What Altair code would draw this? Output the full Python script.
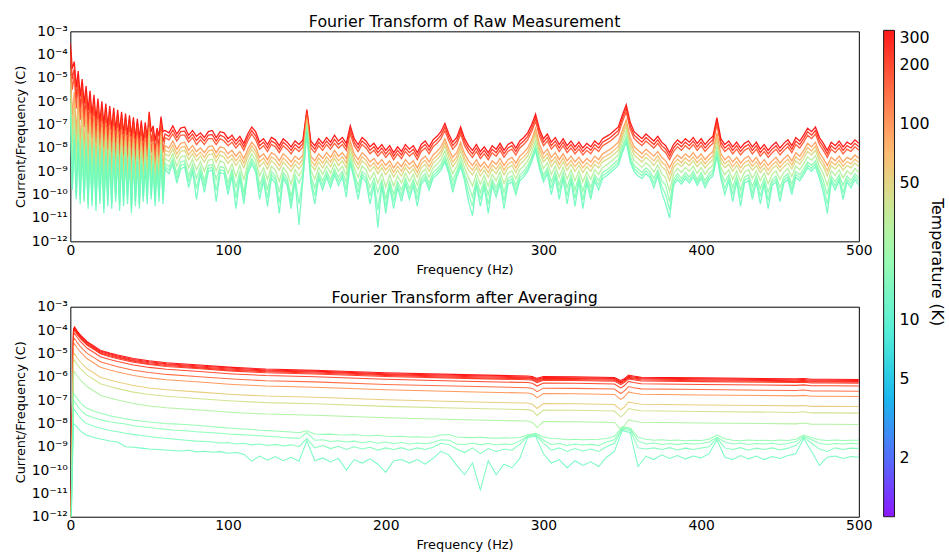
import numpy as np
import pandas as pd
import altair as alt

# ---------------- data (log10 of Current/Frequency) ----------------
# Raw spectra: 0-60 Hz sampled every 1.25 Hz, 62.5-500 Hz every 2.5 Hz
raw_freq = [round(1.25 * i, 2) for i in range(49)] + [round(62.5 + 2.5 * i, 2) for i in range(176)]
raw_temps = [300, 230, 170, 90, 65, 45, 30, 20, 17, 14]

raw_t300 = [
    -3.50, -4.60, -4.30, -5.40, -4.70, -5.80, -5.05, -6.10, -5.35, -6.40,
    -5.55, -6.60, -5.72, -6.80, -5.88, -6.90, -6.00, -7.00, -6.10, -7.10,
    -6.20, -7.20, -6.28, -7.25, -6.36, -7.30, -6.45, -7.40, -6.52, -7.45,
    -6.60, -7.50, -6.68, -7.60, -6.75, -7.60, -6.82, -7.70, -6.90, -7.60,
    -6.45, -7.30, -7.05, -7.70, -7.15, -7.50, -6.65, -7.30, -7.25,
    -7.35, -7.05, -7.40, -7.15, -7.10, -7.45, -7.25, -7.50, -7.35, -7.55,
    -7.30, -7.25, -7.55, -7.30, -7.35, -7.60, -7.45, -7.70, -7.50, -7.80,
    -7.40, -7.10, -7.30, -7.75, -7.60, -7.85, -7.55, -7.65, -7.90, -7.60,
    -7.75, -7.95, -7.70, -7.85, -7.65, -6.35, -7.70, -7.90, -7.60, -7.80,
    -7.55, -7.75, -7.45, -7.70, -7.55, -7.80, -7.05, -7.60, -7.85, -7.55,
    -7.70, -7.95, -7.80, -8.05, -7.85, -8.10, -7.90, -8.20, -7.95, -8.15,
    -7.85, -8.05, -7.90, -8.20, -7.85, -7.70, -7.95, -7.65, -7.50, -7.30,
    -6.95, -7.40, -7.75, -7.55, -7.10, -7.60, -7.90, -8.10, -7.85, -8.15,
    -7.95, -8.20, -7.90, -8.05, -7.80, -8.10, -7.85, -7.75, -8.00, -7.70,
    -7.55, -7.35, -7.00, -6.55, -7.20, -7.60, -7.40, -7.75, -7.55, -7.85,
    -7.60, -7.90, -7.70, -7.95, -7.75, -8.00, -7.80, -7.95, -7.70, -7.85,
    -7.60, -7.50, -7.40, -7.25, -7.10, -6.60, -6.15, -6.90, -7.30, -7.45,
    -7.60, -7.40, -7.55, -7.70, -7.50, -7.75, -7.90, -8.20, -7.85, -7.65,
    -7.80, -7.60, -7.75, -7.55, -7.80, -7.60, -7.85, -7.65, -7.50, -6.70,
    -7.60, -7.85, -7.70, -7.95, -7.75, -8.00, -7.80, -7.70, -7.95, -7.75,
    -8.05, -7.85, -8.10, -7.90, -7.75, -8.00, -7.80, -7.65, -7.90, -7.55,
    -7.70, -7.45, -7.15, -7.30, -7.10, -7.55, -7.80, -8.10, -7.75, -7.90,
    -7.70, -7.95, -7.75, -7.85, -7.65, -7.80,
]

raw_t230 = [
    -3.75, -5.05, -4.60, -5.85, -4.98, -6.30, -5.30, -6.60, -5.58, -6.90,
    -5.78, -7.10, -5.92, -7.30, -6.08, -7.40, -6.20, -7.50, -6.29, -7.60,
    -6.39, -7.70, -6.46, -7.75, -6.54, -7.80, -6.63, -7.88, -6.69, -7.93,
    -6.77, -7.98, -6.85, -8.05, -6.91, -8.05, -6.98, -8.15, -7.06, -8.05,
    -6.60, -7.75, -7.20, -8.15, -7.30, -7.95, -6.80, -7.75, -7.40,
    -7.50, -7.23, -7.55, -7.30, -7.28, -7.60, -7.40, -7.68, -7.50, -7.70,
    -7.45, -7.43, -7.70, -7.45, -7.53, -7.75, -7.60, -7.85, -7.65, -7.95,
    -7.55, -7.25, -7.48, -7.90, -7.75, -8.00, -7.70, -7.80, -8.05, -7.75,
    -7.90, -8.10, -7.85, -8.00, -7.80, -6.42, -7.85, -8.05, -7.75, -7.95,
    -7.70, -7.90, -7.63, -7.85, -7.70, -7.95, -7.23, -7.75, -8.00, -7.70,
    -7.85, -8.10, -7.95, -8.20, -8.00, -8.25, -8.05, -8.35, -8.10, -8.30,
    -8.00, -8.20, -8.05, -8.35, -8.00, -7.85, -8.10, -7.80, -7.65, -7.45,
    -7.10, -7.55, -7.90, -7.70, -7.25, -7.75, -8.05, -8.25, -8.00, -8.30,
    -8.10, -8.35, -8.05, -8.20, -7.95, -8.25, -8.00, -7.90, -8.15, -7.85,
    -7.70, -7.50, -7.15, -6.70, -7.35, -7.75, -7.55, -7.90, -7.70, -8.00,
    -7.75, -8.05, -7.85, -8.10, -7.90, -8.15, -7.95, -8.10, -7.85, -8.00,
    -7.75, -7.65, -7.55, -7.40, -7.25, -6.75, -6.30, -7.05, -7.45, -7.60,
    -7.75, -7.55, -7.70, -7.85, -7.65, -7.90, -8.05, -8.35, -8.00, -7.80,
    -7.95, -7.75, -7.90, -7.70, -7.95, -7.75, -8.00, -7.80, -7.65, -6.85,
    -7.75, -8.00, -7.85, -8.10, -7.90, -8.15, -7.95, -7.85, -8.10, -7.90,
    -8.20, -8.00, -8.25, -8.05, -7.90, -8.15, -7.95, -7.80, -8.05, -7.70,
    -7.85, -7.60, -7.30, -7.45, -7.25, -7.70, -7.95, -8.25, -7.90, -8.05,
    -7.85, -8.10, -7.90, -8.00, -7.80, -7.95,
]

raw_t170 = [
    -4.00, -5.50, -4.90, -6.30, -5.25, -6.80, -5.55, -7.10, -5.80, -7.40,
    -6.00, -7.60, -6.12, -7.80, -6.28, -7.90, -6.40, -8.00, -6.48, -8.10,
    -6.58, -8.20, -6.64, -8.25, -6.71, -8.30, -6.80, -8.35, -6.86, -8.40,
    -6.93, -8.45, -7.01, -8.50, -7.07, -8.50, -7.14, -8.60, -7.21, -8.50,
    -6.75, -8.20, -7.35, -8.60, -7.45, -8.40, -6.95, -8.20, -7.55,
    -7.65, -7.40, -7.70, -7.45, -7.45, -7.75, -7.55, -7.85, -7.65, -7.85,
    -7.60, -7.60, -7.85, -7.60, -7.70, -7.90, -7.75, -8.00, -7.80, -8.10,
    -7.70, -7.40, -7.65, -8.05, -7.90, -8.15, -7.85, -7.95, -8.20, -7.90,
    -8.05, -8.25, -8.00, -8.15, -7.95, -6.50, -8.00, -8.20, -7.90, -8.10,
    -7.85, -8.05, -7.80, -8.00, -7.85, -8.10, -7.40, -7.90, -8.15, -7.85,
    -8.00, -8.25, -8.10, -8.35, -8.15, -8.40, -8.20, -8.50, -8.25, -8.45,
    -8.15, -8.35, -8.20, -8.50, -8.15, -8.00, -8.25, -7.95, -7.80, -7.60,
    -7.25, -7.70, -8.05, -7.85, -7.40, -7.90, -8.20, -8.40, -8.15, -8.45,
    -8.25, -8.50, -8.20, -8.35, -8.10, -8.40, -8.15, -8.05, -8.30, -8.00,
    -7.85, -7.65, -7.30, -6.85, -7.50, -7.90, -7.70, -8.05, -7.85, -8.15,
    -7.90, -8.20, -8.00, -8.25, -8.05, -8.30, -8.10, -8.25, -8.00, -8.15,
    -7.90, -7.80, -7.70, -7.55, -7.40, -6.90, -6.45, -7.20, -7.60, -7.75,
    -7.90, -7.70, -7.85, -8.00, -7.80, -8.05, -8.20, -8.50, -8.15, -7.95,
    -8.10, -7.90, -8.05, -7.85, -8.10, -7.90, -8.15, -7.95, -7.80, -7.00,
    -7.90, -8.15, -8.00, -8.25, -8.05, -8.30, -8.10, -8.00, -8.25, -8.05,
    -8.35, -8.15, -8.40, -8.20, -8.05, -8.30, -8.10, -7.95, -8.20, -7.85,
    -8.00, -7.75, -7.45, -7.60, -7.40, -7.85, -8.10, -8.40, -8.05, -8.20,
    -8.00, -8.25, -8.05, -8.15, -7.95, -8.10,
]

raw_t90 = [
    -4.60, -6.60, -5.60, -7.40, -5.90, -7.80, -6.15, -8.00, -6.35, -8.30,
    -6.50, -8.40, -6.62, -8.60, -6.76, -8.60, -6.85, -8.70, -6.93, -8.80,
    -7.00, -8.85, -7.06, -8.90, -7.12, -8.90, -7.20, -9.00, -7.25, -9.00,
    -7.32, -9.05, -7.38, -9.10, -7.45, -9.10, -7.50, -9.15, -7.57, -9.10,
    -7.11, -8.80, -7.71, -9.10, -7.80, -9.00, -7.30, -8.90, -7.90,
    -8.00, -7.70, -8.05, -7.80, -7.75, -8.10, -7.90, -8.15, -8.00, -8.20,
    -7.95, -7.90, -8.20, -7.95, -8.00, -8.25, -8.10, -8.35, -8.15, -8.45,
    -8.05, -7.75, -7.95, -8.40, -8.25, -8.50, -8.20, -8.30, -8.55, -8.25,
    -8.40, -8.60, -8.35, -8.50, -8.30, -6.70, -8.35, -8.55, -8.25, -8.45,
    -8.20, -8.40, -8.10, -8.35, -8.20, -8.45, -7.70, -8.25, -8.50, -8.20,
    -8.35, -8.60, -8.45, -8.70, -8.50, -8.75, -8.55, -8.85, -8.60, -8.80,
    -8.50, -8.70, -8.55, -8.85, -8.50, -8.35, -8.60, -8.30, -8.15, -7.95,
    -7.60, -8.05, -8.40, -8.20, -7.75, -8.25, -8.55, -8.75, -8.50, -8.80,
    -8.60, -8.85, -8.55, -8.70, -8.45, -8.75, -8.50, -8.40, -8.65, -8.35,
    -8.20, -8.00, -7.65, -7.15, -7.85, -8.25, -8.05, -8.40, -8.20, -8.50,
    -8.25, -8.55, -8.35, -8.60, -8.40, -8.65, -8.45, -8.60, -8.35, -8.50,
    -8.25, -8.15, -8.05, -7.90, -7.75, -7.25, -6.80, -7.55, -7.95, -8.10,
    -8.25, -8.05, -8.20, -8.35, -8.15, -8.40, -8.55, -8.85, -8.50, -8.30,
    -8.45, -8.25, -8.40, -8.20, -8.45, -8.25, -8.50, -8.30, -8.15, -7.35,
    -8.25, -8.50, -8.35, -8.60, -8.40, -8.65, -8.45, -8.35, -8.60, -8.40,
    -8.70, -8.50, -8.75, -8.55, -8.40, -8.65, -8.45, -8.30, -8.55, -8.20,
    -8.35, -8.10, -7.80, -7.95, -7.75, -8.20, -8.45, -8.75, -8.40, -8.55,
    -8.35, -8.60, -8.40, -8.50, -8.30, -8.45,
]

raw_t65 = [
    -4.90, -7.20, -5.95, -7.95, -6.23, -8.30, -6.45, -8.50, -6.65, -8.75,
    -6.78, -8.85, -6.90, -9.00, -7.02, -9.00, -7.10, -9.10, -7.17, -9.15,
    -7.24, -9.23, -7.29, -9.20, -7.34, -9.25, -7.42, -9.30, -7.46, -9.30,
    -7.53, -9.38, -7.58, -9.35, -7.64, -9.40, -7.69, -9.38, -7.76, -9.35,
    -7.30, -9.05, -7.89, -9.35, -7.98, -9.25, -7.48, -9.15, -8.08,
    -8.18, -7.88, -8.25, -7.98, -7.93, -8.30, -8.08, -8.35, -8.18, -8.40,
    -8.13, -8.08, -8.40, -8.13, -8.20, -8.45, -8.28, -8.55, -8.33, -8.65,
    -8.23, -7.90, -8.13, -8.60, -8.43, -8.70, -8.38, -8.50, -8.75, -8.43,
    -8.60, -8.80, -8.53, -8.70, -8.48, -6.80, -8.53, -8.75, -8.43, -8.65,
    -8.38, -8.60, -8.28, -8.55, -8.38, -8.65, -7.85, -8.43, -8.70, -8.38,
    -8.53, -8.80, -8.63, -8.90, -8.68, -8.95, -8.73, -9.05, -8.78, -9.00,
    -8.68, -8.90, -8.73, -9.05, -8.68, -8.53, -8.80, -8.48, -8.33, -8.13,
    -7.75, -8.23, -8.60, -8.38, -7.93, -8.43, -8.75, -8.95, -8.68, -9.00,
    -8.78, -9.05, -8.73, -8.90, -8.63, -8.95, -8.68, -8.58, -8.85, -8.53,
    -8.38, -8.18, -7.80, -7.30, -8.03, -8.43, -8.23, -8.60, -8.38, -8.70,
    -8.43, -8.75, -8.53, -8.80, -8.58, -8.85, -8.63, -8.80, -8.53, -8.68,
    -8.43, -8.33, -8.23, -8.08, -7.93, -7.40, -6.93, -7.73, -8.13, -8.28,
    -8.43, -8.23, -8.38, -8.55, -8.33, -8.60, -8.75, -9.13, -8.68, -8.48,
    -8.63, -8.43, -8.58, -8.38, -8.63, -8.43, -8.68, -8.48, -8.33, -7.50,
    -8.43, -8.68, -8.53, -8.80, -8.58, -8.85, -8.63, -8.53, -8.78, -8.58,
    -8.88, -8.68, -8.95, -8.73, -8.58, -8.83, -8.63, -8.48, -8.73, -8.38,
    -8.53, -8.28, -7.98, -8.13, -7.93, -8.38, -8.63, -8.98, -8.58, -8.73,
    -8.53, -8.78, -8.58, -8.68, -8.48, -8.63,
]

raw_t45 = [
    -5.20, -7.80, -6.30, -8.50, -6.55, -8.80, -6.75, -9.00, -6.95, -9.20,
    -7.05, -9.30, -7.17, -9.40, -7.28, -9.40, -7.35, -9.50, -7.40, -9.50,
    -7.47, -9.60, -7.52, -9.50, -7.56, -9.60, -7.63, -9.60, -7.67, -9.60,
    -7.73, -9.70, -7.78, -9.60, -7.83, -9.70, -7.88, -9.60, -7.95, -9.60,
    -7.48, -9.30, -8.07, -9.60, -8.15, -9.50, -7.65, -9.40, -8.25,
    -8.35, -8.05, -8.45, -8.15, -8.10, -8.50, -8.25, -8.55, -8.35, -8.60,
    -8.30, -8.25, -8.60, -8.30, -8.40, -8.65, -8.45, -8.75, -8.50, -8.85,
    -8.40, -8.05, -8.30, -8.80, -8.60, -8.90, -8.55, -8.70, -8.95, -8.60,
    -8.80, -9.00, -8.70, -8.90, -8.65, -6.90, -8.70, -8.95, -8.60, -8.85,
    -8.55, -8.80, -8.45, -8.75, -8.55, -8.85, -8.00, -8.60, -8.90, -8.55,
    -8.70, -9.00, -8.80, -9.10, -8.85, -9.15, -8.90, -9.25, -8.95, -9.20,
    -8.85, -9.10, -8.90, -9.25, -8.85, -8.70, -9.00, -8.65, -8.50, -8.30,
    -7.90, -8.40, -8.80, -8.55, -8.10, -8.60, -8.95, -9.15, -8.85, -9.20,
    -8.95, -9.25, -8.90, -9.10, -8.80, -9.15, -8.85, -8.75, -9.05, -8.70,
    -8.55, -8.35, -7.95, -7.45, -8.20, -8.60, -8.40, -8.80, -8.55, -8.90,
    -8.60, -8.95, -8.70, -9.00, -8.75, -9.05, -8.80, -9.00, -8.70, -8.85,
    -8.60, -8.50, -8.40, -8.25, -8.10, -7.55, -7.05, -7.90, -8.30, -8.45,
    -8.60, -8.40, -8.55, -8.75, -8.50, -8.80, -8.95, -9.40, -8.85, -8.65,
    -8.80, -8.60, -8.75, -8.55, -8.80, -8.60, -8.85, -8.65, -8.50, -7.65,
    -8.60, -8.85, -8.70, -9.00, -8.75, -9.05, -8.80, -8.70, -8.95, -8.75,
    -9.05, -8.85, -9.15, -8.90, -8.75, -9.00, -8.80, -8.65, -8.90, -8.55,
    -8.70, -8.45, -8.15, -8.30, -8.10, -8.55, -8.80, -9.20, -8.75, -8.90,
    -8.70, -8.95, -8.75, -8.85, -8.65, -8.80,
]

raw_t30 = [
    -5.65, -8.65, -6.75, -9.20, -6.98, -9.40, -7.15, -9.50, -7.33, -9.70,
    -7.40, -9.70, -7.50, -9.85, -7.58, -9.75, -7.65, -9.95, -7.70, -9.80,
    -7.76, -9.90, -7.80, -9.75, -7.84, -9.95, -7.90, -9.85, -7.94, -9.80,
    -7.99, -10.05, -8.04, -9.85, -8.09, -9.95, -8.14, -9.80, -8.20, -9.80,
    -7.72, -9.60, -8.29, -9.85, -8.36, -9.70, -7.85, -9.70, -8.45,
    -8.58, -8.25, -8.78, -8.38, -8.33, -8.85, -8.48, -8.93, -8.58, -9.00,
    -8.53, -8.48, -8.98, -8.55, -8.63, -9.08, -8.68, -9.23, -8.75, -9.38,
    -8.63, -8.25, -8.53, -9.20, -8.85, -9.35, -8.78, -8.95, -9.43, -8.83,
    -9.05, -9.55, -8.93, -9.20, -8.88, -7.00, -8.95, -9.33, -8.83, -9.13,
    -8.78, -9.08, -8.68, -9.00, -8.78, -9.15, -8.20, -8.85, -9.25, -8.78,
    -8.93, -9.35, -9.05, -9.50, -9.10, -9.68, -9.15, -9.63, -9.20, -9.50,
    -9.08, -9.43, -9.13, -9.58, -9.08, -8.90, -9.25, -8.85, -8.70, -8.50,
    -8.13, -8.63, -9.10, -8.78, -8.33, -8.85, -9.28, -9.63, -9.10, -9.55,
    -9.18, -9.63, -9.13, -9.40, -9.03, -9.53, -9.08, -8.98, -9.33, -8.93,
    -8.78, -8.55, -8.18, -7.68, -8.43, -8.88, -8.63, -9.13, -8.78, -9.25,
    -8.83, -9.33, -8.93, -9.40, -8.98, -9.45, -9.03, -9.35, -8.93, -9.13,
    -8.83, -8.73, -8.60, -8.45, -8.30, -7.75, -7.28, -8.13, -8.53, -8.68,
    -8.83, -8.63, -8.78, -9.03, -8.73, -9.10, -9.28, -9.85, -9.10, -8.88,
    -9.05, -8.83, -9.00, -8.78, -9.08, -8.83, -9.13, -8.88, -8.73, -7.88,
    -8.83, -9.15, -8.93, -9.35, -8.98, -9.43, -9.03, -8.93, -9.30, -8.98,
    -9.40, -9.08, -9.53, -9.13, -8.98, -9.35, -9.03, -8.88, -9.23, -8.78,
    -8.93, -8.68, -8.38, -8.53, -8.33, -8.78, -9.10, -9.60, -8.98, -9.18,
    -8.93, -9.28, -8.98, -9.13, -8.88, -9.05,
]

raw_t20 = [
    -6.10, -9.50, -7.20, -9.90, -7.40, -10.00, -7.55, -10.00, -7.70, -10.20,
    -7.75, -10.10, -7.82, -10.30, -7.88, -10.10, -7.95, -10.40, -8.00, -10.10,
    -8.05, -10.20, -8.08, -10.00, -8.11, -10.30, -8.17, -10.10, -8.20, -10.00,
    -8.25, -10.40, -8.30, -10.10, -8.35, -10.20, -8.40, -10.00, -8.45, -10.00,
    -7.95, -9.90, -8.50, -10.10, -8.57, -9.90, -8.05, -10.00, -8.65,
    -8.80, -8.45, -9.10, -8.60, -8.55, -9.20, -8.70, -9.30, -8.80, -9.40,
    -8.75, -8.70, -9.35, -8.80, -8.85, -9.50, -8.90, -9.70, -9.00, -9.90,
    -8.85, -8.45, -8.75, -9.60, -9.10, -9.80, -9.00, -9.20, -9.90, -9.05,
    -9.30, -10.10, -9.15, -9.50, -9.10, -7.10, -9.20, -9.70, -9.05, -9.40,
    -9.00, -9.35, -8.90, -9.25, -9.00, -9.45, -8.40, -9.10, -9.60, -9.00,
    -9.15, -9.70, -9.30, -9.90, -9.35, -10.20, -9.40, -10.00, -9.45, -9.80,
    -9.30, -9.75, -9.35, -9.90, -9.30, -9.10, -9.50, -9.05, -8.90, -8.70,
    -8.35, -8.85, -9.40, -9.00, -8.55, -9.10, -9.60, -10.10, -9.35, -9.90,
    -9.40, -10.00, -9.35, -9.70, -9.25, -9.90, -9.30, -9.20, -9.60, -9.15,
    -9.00, -8.75, -8.40, -7.90, -8.65, -9.15, -8.85, -9.45, -9.00, -9.60,
    -9.05, -9.70, -9.15, -9.80, -9.20, -9.85, -9.25, -9.70, -9.15, -9.40,
    -9.05, -8.95, -8.80, -8.65, -8.50, -7.95, -7.50, -8.35, -8.75, -8.90,
    -9.05, -8.85, -9.00, -9.30, -8.95, -9.40, -9.60, -10.30, -9.35, -9.10,
    -9.30, -9.05, -9.25, -9.00, -9.35, -9.05, -9.40, -9.10, -8.95, -8.10,
    -9.05, -9.45, -9.15, -9.70, -9.20, -9.80, -9.25, -9.15, -9.65, -9.20,
    -9.75, -9.30, -9.90, -9.35, -9.20, -9.70, -9.25, -9.10, -9.55, -9.00,
    -9.15, -8.90, -8.60, -8.75, -8.55, -9.00, -9.40, -10.00, -9.20, -9.45,
    -9.15, -9.60, -9.20, -9.40, -9.10, -9.30,
]

raw_t17 = [
    -6.30, -9.65, -7.40, -10.05, -7.60, -10.20, -7.70, -10.15, -7.83, -10.40,
    -7.88, -10.30, -7.95, -10.50, -8.01, -10.25, -8.08, -10.60, -8.13, -10.30,
    -8.18, -10.40, -8.21, -10.15, -8.24, -10.50, -8.29, -10.30, -8.31, -10.20,
    -8.37, -10.60, -8.42, -10.30, -8.46, -10.40, -8.51, -10.15, -8.57, -10.20,
    -8.05, -10.05, -8.62, -10.30, -8.69, -10.10, -8.18, -10.20, -8.78,
    -8.95, -8.58, -9.30, -8.75, -8.68, -9.45, -8.85, -9.75, -8.95, -9.65,
    -8.88, -8.83, -9.83, -8.93, -8.98, -9.75, -9.05, -10.15, -9.15, -10.15,
    -8.98, -8.58, -8.88, -9.90, -9.25, -10.15, -9.15, -9.35, -10.35, -9.18,
    -9.45, -10.35, -9.28, -10.40, -9.23, -7.20, -9.35, -10.05, -9.18, -9.60,
    -9.13, -9.53, -9.03, -9.43, -9.13, -9.78, -8.53, -9.23, -9.90, -9.13,
    -9.30, -10.05, -9.45, -10.65, -9.48, -10.50, -9.53, -10.30, -9.58, -10.05,
    -9.43, -9.98, -9.48, -10.20, -9.43, -9.23, -9.65, -9.18, -9.03, -8.83,
    -8.48, -8.98, -9.65, -9.13, -8.68, -9.25, -9.95, -10.50, -9.48, -10.20,
    -9.53, -10.40, -9.48, -9.90, -9.38, -10.25, -9.43, -9.33, -9.80, -9.28,
    -9.13, -8.88, -8.50, -8.00, -8.78, -9.30, -8.98, -9.73, -9.13, -9.90,
    -9.18, -10.05, -9.28, -10.15, -9.33, -10.23, -9.38, -9.95, -9.28, -9.60,
    -9.18, -9.08, -8.93, -8.78, -8.63, -8.08, -7.63, -8.48, -8.88, -9.05,
    -9.18, -8.98, -9.13, -9.50, -9.08, -9.65, -10.00, -10.65, -9.48, -9.23,
    -9.43, -9.18, -9.38, -9.13, -9.48, -9.18, -9.55, -9.23, -9.08, -8.23,
    -9.18, -9.73, -9.28, -10.00, -9.33, -10.15, -9.38, -9.28, -9.93, -9.33,
    -10.08, -9.43, -10.25, -9.48, -9.33, -10.00, -9.38, -9.23, -9.78, -9.13,
    -9.28, -9.03, -8.73, -8.88, -8.68, -9.15, -9.65, -10.40, -9.33, -9.63,
    -9.28, -9.90, -9.33, -9.55, -9.23, -9.45,
]

raw_t14 = [
    -6.50, -9.80, -7.60, -10.20, -7.80, -10.40, -7.85, -10.30, -7.95, -10.60,
    -8.00, -10.50, -8.07, -10.70, -8.13, -10.40, -8.20, -10.80, -8.25, -10.50,
    -8.30, -10.60, -8.33, -10.30, -8.36, -10.70, -8.40, -10.50, -8.42, -10.40,
    -8.48, -10.80, -8.53, -10.50, -8.57, -10.60, -8.62, -10.30, -8.68, -10.40,
    -8.15, -10.20, -8.73, -10.50, -8.80, -10.30, -8.30, -10.40, -8.90,
    -9.10, -8.70, -9.50, -8.90, -8.80, -9.70, -9.00, -10.20, -9.10, -9.90,
    -9.00, -8.95, -10.30, -9.05, -9.10, -10.00, -9.20, -10.60, -9.30, -10.40,
    -9.10, -8.70, -9.00, -10.20, -9.40, -10.50, -9.30, -9.50, -10.80, -9.30,
    -9.60, -10.60, -9.40, -11.30, -9.35, -7.30, -9.50, -10.40, -9.30, -9.80,
    -9.25, -9.70, -9.15, -9.60, -9.25, -10.10, -8.65, -9.35, -10.20, -9.25,
    -9.45, -10.40, -9.60, -11.40, -9.60, -10.80, -9.65, -10.60, -9.70, -10.30,
    -9.55, -10.20, -9.60, -10.50, -9.55, -9.35, -9.80, -9.30, -9.15, -8.95,
    -8.60, -9.10, -9.90, -9.25, -8.80, -9.40, -10.30, -10.90, -9.60, -10.50,
    -9.65, -10.80, -9.60, -10.10, -9.50, -10.60, -9.55, -9.45, -10.00, -9.40,
    -9.25, -9.00, -8.60, -8.10, -8.90, -9.45, -9.10, -10.00, -9.25, -10.20,
    -9.30, -10.40, -9.40, -10.50, -9.45, -10.60, -9.50, -10.20, -9.40, -9.80,
    -9.30, -9.20, -9.05, -8.90, -8.75, -8.20, -7.75, -8.60, -9.00, -9.20,
    -9.30, -9.10, -9.25, -9.70, -9.20, -9.90, -10.40, -11.00, -9.60, -9.35,
    -9.55, -9.30, -9.50, -9.25, -9.60, -9.30, -9.70, -9.35, -9.20, -8.35,
    -9.30, -10.00, -9.40, -10.30, -9.45, -10.50, -9.50, -9.40, -10.20, -9.45,
    -10.40, -9.55, -10.60, -9.60, -9.45, -10.30, -9.50, -9.35, -10.00, -9.25,
    -9.40, -9.15, -8.85, -9.00, -8.80, -9.30, -9.90, -10.80, -9.45, -9.80,
    -9.40, -10.20, -9.45, -9.70, -9.35, -9.60,
]

# Averaged spectra, smooth curves
avg_freq = [0, 2, 2.7, 4.4, 6.5, 10.7, 15, 19, 25, 30, 40, 50, 61, 82, 103, 124, 155, 200,
            250, 290, 293, 296, 300, 320, 345, 349, 351, 354, 357, 362, 400, 460, 465, 470, 480, 500]
avg_temps = [300, 280, 260, 240, 220, 200, 150, 100, 55, 40, 28]

avg_t300 = [-14, -3.95, -3.86, -4.04, -4.22, -4.50, -4.68, -4.86, -4.98, -5.07, -5.22, -5.32, -5.40, -5.50,
            -5.60, -5.67, -5.72, -5.83, -5.91, -5.97, -5.99, -6.07, -5.99, -6.00, -6.03, -6.16, -6.10,
            -5.93, -5.97, -6.02, -6.05, -6.09, -6.08, -6.11, -6.11, -6.12]
avg_t280 = [-14, -3.99, -3.90, -4.08, -4.26, -4.54, -4.72, -4.90, -5.02, -5.11, -5.26, -5.36, -5.44, -5.54,
            -5.64, -5.71, -5.76, -5.87, -5.95, -6.01, -6.03, -6.12, -6.03, -6.04, -6.07, -6.21, -6.14,
            -5.98, -6.01, -6.06, -6.09, -6.13, -6.12, -6.15, -6.15, -6.16]
avg_t260 = [-14, -4.03, -3.94, -4.12, -4.30, -4.58, -4.76, -4.94, -5.06, -5.15, -5.30, -5.40, -5.48, -5.58,
            -5.68, -5.75, -5.80, -5.91, -5.99, -6.05, -6.07, -6.16, -6.07, -6.08, -6.11, -6.25, -6.18,
            -6.02, -6.05, -6.10, -6.13, -6.17, -6.16, -6.19, -6.19, -6.20]
avg_t240 = [-14, -4.07, -3.98, -4.16, -4.34, -4.62, -4.80, -4.98, -5.10, -5.19, -5.34, -5.44, -5.52, -5.62,
            -5.72, -5.79, -5.84, -5.95, -6.03, -6.09, -6.11, -6.20, -6.11, -6.12, -6.15, -6.29, -6.22,
            -6.06, -6.09, -6.14, -6.17, -6.21, -6.20, -6.23, -6.23, -6.24]
avg_t220 = [-14, -4.11, -4.02, -4.20, -4.38, -4.66, -4.84, -5.02, -5.14, -5.23, -5.38, -5.48, -5.56, -5.66,
            -5.76, -5.83, -5.88, -5.99, -6.07, -6.13, -6.15, -6.25, -6.15, -6.16, -6.19, -6.34, -6.26,
            -6.10, -6.13, -6.18, -6.21, -6.25, -6.24, -6.27, -6.27, -6.28]
avg_t200 = [-14, -4.23, -4.14, -4.32, -4.50, -4.78, -4.96, -5.14, -5.26, -5.35, -5.50, -5.60, -5.68, -5.78,
            -5.88, -5.95, -6.00, -6.11, -6.19, -6.25, -6.28, -6.40, -6.27, -6.28, -6.31, -6.48, -6.40,
            -6.20, -6.25, -6.30, -6.33, -6.37, -6.35, -6.39, -6.39, -6.40]
avg_t150 = [-14, -4.45, -4.36, -4.54, -4.72, -5.00, -5.18, -5.36, -5.48, -5.57, -5.72, -5.82, -5.90, -6.00,
            -6.10, -6.17, -6.22, -6.33, -6.41, -6.47, -6.50, -6.64, -6.49, -6.50, -6.53, -6.72, -6.63,
            -6.42, -6.47, -6.52, -6.55, -6.59, -6.57, -6.61, -6.61, -6.62]
avg_t100 = [-14, -4.68, -4.59, -4.77, -4.95, -5.23, -5.41, -5.59, -5.71, -5.80, -5.95, -6.05, -6.13, -6.23,
            -6.33, -6.40, -6.45, -6.56, -6.64, -6.70, -6.74, -6.90, -6.72, -6.73, -6.76, -6.97, -6.88,
            -6.65, -6.70, -6.75, -6.78, -6.82, -6.80, -6.84, -6.84, -6.85]
avg_t55 = [-14, -5.11, -5.02, -5.20, -5.38, -5.66, -5.84, -6.02, -6.14, -6.23, -6.38, -6.48, -6.56, -6.66,
           -6.76, -6.83, -6.88, -6.99, -7.07, -7.13, -7.18, -7.36, -7.15, -7.16, -7.19, -7.42, -7.32,
           -7.08, -7.13, -7.18, -7.21, -7.25, -7.23, -7.27, -7.27, -7.28]
avg_t40 = [-14, -5.39, -5.30, -5.48, -5.66, -5.94, -6.12, -6.30, -6.42, -6.51, -6.66, -6.76, -6.84, -6.94,
           -7.04, -7.11, -7.16, -7.27, -7.35, -7.41, -7.46, -7.66, -7.43, -7.44, -7.47, -7.72, -7.61,
           -7.36, -7.41, -7.46, -7.49, -7.53, -7.50, -7.55, -7.55, -7.56]
avg_t28 = [-14, -5.88, -5.79, -5.97, -6.15, -6.43, -6.61, -6.79, -6.91, -7.00, -7.15, -7.25, -7.33, -7.43,
           -7.53, -7.60, -7.65, -7.76, -7.84, -7.90, -7.96, -8.18, -7.92, -7.93, -7.96, -8.25, -8.12,
           -7.85, -7.90, -7.95, -7.98, -8.02, -7.98, -8.04, -8.04, -8.05]

# Averaged spectra, noisy low-temperature curves (0, 2, 3.5, 5, 7.5, 10, then every 5 Hz)
avg_noisy_freq = [0, 2, 3.5, 5, 7.5, 10] + list(range(15, 501, 5))
avg_noisy_temps = [20, 18, 16, 14]

avg_t20 = [
    -14, -6.72, -6.85, -7.00, -7.20, -7.33,
    -7.48, -7.58, -7.67, -7.74, -7.80, -7.86, -7.90, -7.94, -7.97, -8.00,
    -8.02, -8.04, -8.06, -8.08, -8.11, -8.14, -8.17, -8.20, -8.22, -8.24,
    -8.26, -8.29, -8.31, -8.33, -8.35, -8.37, -8.40, -8.32, -8.45, -8.47,
    -8.46, -8.49, -8.50, -8.48, -8.52, -8.53, -8.51, -8.55, -8.56, -8.55,
    -8.58, -8.57, -8.59, -8.58, -8.50, -8.48, -8.58, -8.60, -8.61, -8.59,
    -8.62, -8.64, -8.62, -8.63, -8.60, -8.50, -8.42, -8.58, -8.65, -8.66,
    -8.70, -8.68, -8.70, -8.69, -8.68, -8.65, -8.55, -8.15, -8.20, -8.60,
    -8.68, -8.72, -8.70, -8.73, -8.71, -8.74, -8.72, -8.73, -8.68, -8.50,
    -8.66, -8.72, -8.74, -8.71, -8.73, -8.72, -8.74, -8.71, -8.73, -8.68,
    -8.50, -8.62, -8.70, -8.73, -8.71, -8.73, -8.72, -8.72,
]
avg_t18 = [
    -14, -7.00, -7.15, -7.30, -7.50, -7.64,
    -7.76, -7.86, -7.93, -7.98, -8.03, -8.10, -8.14, -8.18, -8.22, -8.25,
    -8.28, -8.30, -8.33, -8.36, -8.38, -8.40, -8.42, -8.45, -8.47, -8.49,
    -8.51, -8.53, -8.55, -8.57, -8.60, -8.62, -8.65, -8.40, -8.72, -8.70,
    -8.78, -8.74, -8.80, -8.76, -8.83, -8.78, -8.85, -8.80, -8.86, -8.82,
    -8.88, -8.84, -8.87, -8.82, -8.70, -8.72, -8.88, -8.90, -8.84, -8.92,
    -8.86, -8.93, -8.88, -8.90, -8.75, -8.55, -8.45, -8.72, -8.90, -8.86,
    -8.95, -8.88, -8.93, -8.90, -8.95, -8.80, -8.70, -8.20, -8.25, -8.75,
    -8.88, -8.84, -8.90, -8.86, -8.91, -8.85, -8.88, -8.86, -8.80, -8.60,
    -8.80, -8.88, -8.84, -8.90, -8.86, -8.88, -8.85, -8.90, -8.86, -8.78,
    -8.55, -8.70, -8.85, -8.90, -8.86, -8.88, -8.85, -8.87,
]
avg_t16 = [
    -14, -7.36, -7.50, -7.65, -7.85, -8.00,
    -8.12, -8.22, -8.30, -8.36, -8.42, -8.47, -8.52, -8.56, -8.60, -8.64,
    -8.67, -8.70, -8.73, -8.76, -8.78, -8.80, -8.84, -8.82, -8.88, -8.85,
    -8.92, -8.88, -8.95, -8.90, -8.97, -8.92, -9.00, -8.65, -9.05, -8.95,
    -9.08, -8.98, -9.12, -9.00, -9.10, -9.02, -9.15, -9.05, -9.12, -9.04,
    -9.15, -9.05, -9.12, -9.02, -8.85, -8.90, -9.10, -9.25, -9.05, -9.30,
    -9.08, -9.20, -9.10, -9.15, -8.90, -8.55, -8.50, -8.85, -9.15, -9.05,
    -9.20, -9.08, -9.18, -9.10, -9.20, -9.00, -8.85, -8.25, -8.30, -9.05,
    -9.10, -9.05, -9.12, -9.04, -9.14, -9.06, -9.12, -9.05, -9.00, -8.62,
    -9.05, -9.12, -9.04, -9.15, -9.06, -9.12, -9.05, -9.14, -9.06, -8.95,
    -8.60, -8.85, -9.10, -9.20, -9.05, -9.12, -9.06, -9.08,
]
avg_t14 = [
    -14, -8.00, -8.10, -8.22, -8.38, -8.50,
    -8.60, -8.68, -8.75, -8.80, -9.00, -9.02, -9.06, -9.10, -9.12, -9.14,
    -9.16, -9.18, -9.15, -9.22, -9.19, -9.24, -9.21, -9.28, -9.25, -9.32,
    -9.62, -9.40, -9.58, -9.42, -9.60, -9.45, -9.62, -8.75, -9.60, -9.48,
    -9.65, -9.50, -10.00, -9.55, -9.70, -9.52, -9.75, -10.10, -9.60, -9.55,
    -9.70, -9.55, -9.75, -9.50, -9.20, -9.35, -9.80, -10.20, -9.70, -10.85,
    -9.60, -10.20, -9.75, -9.90, -9.50, -8.60, -8.55, -9.30, -9.70, -9.55,
    -9.90, -9.60, -9.80, -9.65, -9.85, -9.45, -9.20, -8.30, -8.40, -9.85,
    -9.40, -9.55, -9.35, -9.50, -9.38, -9.52, -9.40, -9.48, -9.30, -8.70,
    -9.45, -9.55, -9.38, -9.52, -9.40, -9.55, -9.42, -9.50, -9.38, -9.30,
    -8.65, -9.20, -9.80, -9.45, -9.40, -9.50, -9.42, -9.45,
]

temp_ticks = [2, 5, 10, 50, 100, 200, 300]
y_ticks = [1e-3, 1e-4, 1e-5, 1e-6, 1e-7, 1e-8, 1e-9, 1e-10, 1e-11, 1e-12]
x_ticks = [0, 100, 200, 300, 400, 500]
legend_title = ["Temperature (K)"]


# ---------------- build tables ----------------
def frame(temps, series, freqs):
    rows = []
    for t, vals in zip(temps, series):
        assert len(vals) == len(freqs), (t, len(vals), len(freqs))
        for f, v in zip(freqs, vals):
            rows.append({"f": float(f), "y": float(10.0 ** v), "T": t})
    return pd.DataFrame(rows)


raw_df = frame(raw_temps, [raw_t300, raw_t230, raw_t170, raw_t90, raw_t65, raw_t45,
                           raw_t30, raw_t20, raw_t17, raw_t14], raw_freq)
avg_df = pd.concat([
    frame(avg_temps, [avg_t300, avg_t280, avg_t260, avg_t240, avg_t220, avg_t200,
                      avg_t150, avg_t100, avg_t55, avg_t40, avg_t28], avg_freq),
    frame(avg_noisy_temps, [avg_t20, avg_t18, avg_t16, avg_t14], avg_noisy_freq),
], ignore_index=True)

# matplotlib "rainbow" colormap stops, spread evenly on a log scale from 1 K to 300 K
rainbow = ["#8000ff", "#4062fa", "#00b5eb", "#40ecd4", "#80ffb4",
           "#c0eb8d", "#ffb462", "#ff6232", "#ff0000"]
stops = [float(v) for v in np.power(300.0, np.linspace(0, 1, len(rainbow)))]
color_scale = alt.Scale(type="log", domain=stops, range=rainbow, interpolate="rgb")

legend = alt.Legend(
    title=None, values=temp_ticks, format="d", orient="none", legendX=821, legendY=-1,
    direction="vertical", gradientLength=491, gradientThickness=11,
    gradientStrokeColor="black", gradientStrokeWidth=1,
    labelFontSize=16, labelColor="black", labelOffset=5, labelOverlap=False,
)

label_expr = ("'10\u207b' + ['\u2070','\u00b9','\u00b2','\u00b3','\u2074','\u2075','\u2076','\u2077',"
              "'\u2078','\u2079','\u00b9\u2070','\u00b9\u00b9','\u00b9\u00b2']"
              "[round(-log(datum.value)/LN10)]")


def lines(df, ytitle, width):
    return alt.Chart(df).mark_line(strokeWidth=width, opacity=0.9, clip=True).encode(
        x=alt.X("f:Q", scale=alt.Scale(domain=[0, 500], nice=False, zero=False),
                axis=alt.Axis(title="Frequency (Hz)", values=x_ticks, format="d", labelFlush=False,
                              labelFontSize=14, titleFontSize=13, labelPadding=2, titlePadding=6)),
        y=alt.Y("y:Q", scale=alt.Scale(type="log", domain=[1e-12, 1e-3], nice=False),
                axis=alt.Axis(title=ytitle, values=y_ticks, labelExpr=label_expr, labelFlush=False,
                              labelFontSize=14, titleFontSize=13, labelPadding=3, titlePadding=4)),
        color=alt.Color("T:Q", scale=color_scale, legend=legend),
        detail="T:N",
    )


def title(text):
    return alt.TitleParams(text, fontSize=16, fontWeight="normal", offset=-6, color="black")


cbar_title = alt.Chart(pd.DataFrame({"label": legend_title})).mark_text(
    angle=90, fontSize=16, color="black", align="center", baseline="middle"
).encode(text="label:N", x=alt.value(875), y=alt.value(233))

top = alt.layer(
    lines(raw_df, "Current/Frequency  (C)", 1.3), cbar_title
).properties(width=796, height=212, title=title("Fourier Transform of Raw Measurement"))

bottom = lines(avg_df, "Current/Frequency (C)", 1.05).properties(
    width=796, height=212, title=title("Fourier Transform after Averaging"))

chart = alt.vconcat(top, bottom, spacing=66, bounds="flush").properties(
    padding={"left": 14, "top": 11, "right": 3, "bottom": 0},
    background="white",
).configure(font="DejaVu Sans").configure_view(
    stroke="black", strokeWidth=1
).configure_axis(
    grid=False, domain=False, ticks=False, labelColor="black", titleColor="black",
    titleFontWeight="normal",
)

chart.save("out.html", embed_options={"renderer": "svg", "actions": False})
